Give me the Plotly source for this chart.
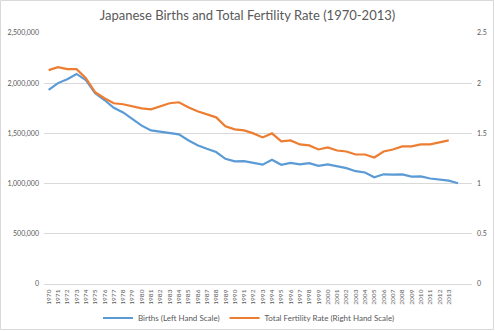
import plotly.graph_objects as go

years = list(range(1970, 2016))
label_years = list(range(1970, 2014))

births = [1934239, 2000973, 2038682, 2091983, 2029989, 1901440, 1832617, 1755100,
          1708643, 1642580, 1576889, 1529455, 1515392, 1508687, 1489780, 1431577,
          1382946, 1346658, 1314006, 1246802, 1221585, 1223245, 1208989, 1188282,
          1238328, 1187064, 1206555, 1191665, 1203147, 1177669, 1190547, 1170662,
          1153855, 1123610, 1110721, 1062530, 1092674, 1089818, 1091156, 1070035,
          1071304, 1050806, 1037231, 1029816, 1003539]

tfr = [2.13, 2.16, 2.14, 2.14, 2.05, 1.91, 1.85, 1.80, 1.79, 1.77, 1.75, 1.74,
       1.77, 1.80, 1.81, 1.76, 1.72, 1.69, 1.66, 1.57, 1.54, 1.53, 1.50, 1.46,
       1.50, 1.42, 1.43, 1.39, 1.38, 1.34, 1.36, 1.33, 1.32, 1.29, 1.29, 1.26,
       1.32, 1.34, 1.37, 1.37, 1.39, 1.39, 1.41, 1.43]

left_ticks = [0, 500000, 1000000, 1500000, 2000000, 2500000]
right_ticks = [0, 0.5, 1, 1.5, 2, 2.5]
right_labels = ["0", "0.5", "1", "1.5", "2", "2.5"]

W, H = 495, 331
L, R, T, B = 44, 23, 33, 47
pw, ph = W - L - R, H - T - B

fig = go.Figure()
fig.add_trace(go.Scatter(x=years[:len(births)], y=births, mode="lines",
                         name="Births (Left Hand Scale)",
                         line=dict(color="#5B9BD5", width=2.2)))
fig.add_trace(go.Scatter(x=years[:len(tfr)], y=tfr, mode="lines",
                         name="Total Fertility Rate (Right Hand Scale)",
                         line=dict(color="#ED7D31", width=2.2), yaxis="y2"))

fam = "Lato, Carlito, Calibri, sans-serif"
tick_font = dict(family=fam, size=7, color="#595959")

fig.update_layout(
    width=W, height=H,
    margin=dict(l=L, r=R, t=T, b=B, autoexpand=False),
    paper_bgcolor="white", plot_bgcolor="white",
    title=dict(text="Japanese Births and Total Fertility Rate (1970-2013)",
               x=0.5, xanchor="center", y=1 - 15 / H, yanchor="middle",
               font=dict(family=fam, size=13, color="#595959")),
    xaxis=dict(range=[years[0] - 0.5, years[-1] + 0.5],
               tickmode="array", tickvals=label_years,
               ticktext=[str(y) for y in label_years],
               tickangle=-90, tickfont=dict(family=fam, size=6.5, color="#595959"),
               showgrid=False, automargin=False,
               showline=True, linecolor="#D9D9D9", linewidth=1,
               zeroline=False, ticks="", ticklabelstandoff=2),
    yaxis=dict(range=[0, 2500000], tickmode="array", tickvals=left_ticks,
               tickformat=",d", tickfont=tick_font, gridcolor="#D9D9D9",
               gridwidth=1, zeroline=False, showline=False, ticks="",
               ticklabelstandoff=4, automargin=False),
    yaxis2=dict(range=[0, 2.5], overlaying="y", side="right",
                tickmode="array", tickvals=right_ticks, ticktext=right_labels,
                tickfont=tick_font, showgrid=False, zeroline=False,
                showline=False, ticks="", ticklabelstandoff=4, automargin=False),
    legend=dict(orientation="h", x=(249 - L) / pw, xanchor="center",
                y=-(318 - (T + ph)) / ph, yanchor="middle",
                font=dict(family=fam, size=8, color="#595959"),
                itemwidth=30, bgcolor="rgba(0,0,0,0)"),
    showlegend=True,
)

fig.add_shape(type="rect", xref="paper", yref="paper",
              x0=-(L - 0.5) / pw, x1=(W - L - 1.5) / pw,
              y0=-(B - 1.5) / ph, y1=1 + (T - 0.5) / ph,
              line=dict(color="#D9D9D9", width=1), layer="below")

fig.write_html("out.html")
